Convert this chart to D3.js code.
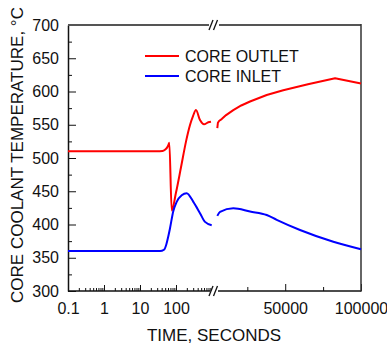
<!DOCTYPE html>
<html>
<head>
<meta charset="utf-8">
<script src="https://cdn.jsdelivr.net/npm/d3@7"></script>
<style>
  body { margin: 0; background: #fff; }
  text { font-family: "Liberation Sans", Arial, sans-serif; fill: #111; }
</style>
</head>
<body>
<svg id="chart" width="387" height="347"></svg>
<script>
// early transient, log time axis (seconds)
var outletEarly = [
  [0.1, 510], [30, 510], [42, 510.5], [49.5, 512.5], [57, 516], [62, 520], [65.2, 523],
  [76, 421], [100, 448], [137.7, 486], [190, 525], [245, 549.6], [297, 563], [359, 572],
  [464, 557], [600, 550.7], [789, 553.7], [938, 554.6]
];
var inletEarly = [
  [0.1, 360], [36, 360], [46.4, 362], [53.8, 370], [61, 382], [68, 394], [84, 420],
  [104.5, 434], [144, 444], [198, 447], [303, 434], [464, 417], [639, 404], [981, 399]
];
// long term, linear time axis (seconds)
var outletLate = [
  [5200, 545], [5600, 553], [6500, 556], [8100, 558.5], [11000, 564.5], [15750, 572],
  [21000, 579], [26800, 585], [37800, 594.7], [48700, 602], [65000, 611], [82900, 620],
  [100000, 612]
];
var inletLate = [
  [5200, 413], [7000, 419], [15750, 424.3], [26800, 419.5], [37800, 414.3], [44400, 407],
  [59760, 391.7], [81750, 374], [100000, 362.7]
];
var yTicks = [300, 350, 400, 450, 500, 550, 600, 650, 700];
var logMajor = [0.1, 1, 10, 100];
var linMajor = [50000, 100000];
var linMinor = [25000, 75000];
var legendItems = [["CORE OUTLET", "#ff0000"], ["CORE INLET", "#0000ff"]];

var svg = d3.select("#chart");
var pLeft = 68, pTop = 25, pBottom = 291, pRight = 361;

var y = d3.scaleLinear().domain([300, 700]).range([pBottom, pTop]);
var xLog = d3.scaleLog().domain([0.1, 1000]).range([pLeft, 212]);
var xLin = d3.scaleLinear().domain([5000, 100000]).range([217, pRight]);

// minor ticks for log axis
var logMinor = [];
logMajor.forEach(function(d) {
  for (var k = 2; k <= 9; k++) logMinor.push(d * k);
});
var yMinor = [];
for (var v = 325; v < 700; v += 50) yMinor.push(v);

// y axis
svg.append("g")
  .attr("transform", "translate(" + pLeft + ",0)")
  .call(d3.axisLeft(y).tickValues(yTicks).tickSize(-8).tickSizeOuter(0).tickPadding(9).tickFormat(d3.format("d")))
  .call(function(g) {
    g.select(".domain").attr("stroke", "#111").attr("stroke-width", 1.5);
    g.selectAll("line").attr("stroke", "#111");
    g.selectAll("text").attr("font-size", 16).attr("fill", "#111");
  });
svg.append("g")
  .attr("transform", "translate(" + pLeft + ",0)")
  .call(d3.axisLeft(y).tickValues(yMinor).tickSize(-4).tickFormat(""))
  .call(function(g) { g.select(".domain").remove(); g.selectAll("line").attr("stroke", "#111"); });

// x axis left part (log)
svg.append("g")
  .attr("transform", "translate(0," + pBottom + ")")
  .call(d3.axisBottom(xLog).tickValues(logMajor).tickSize(-6).tickSizeOuter(0).tickPadding(12)
    .tickFormat(function(d) { return d < 1 ? "0.1" : d3.format("d")(d); }))
  .call(function(g) {
    g.select(".domain").attr("stroke", "#111").attr("stroke-width", 1.5).attr("d", "M" + pLeft + ",0H210");
    g.selectAll("line").attr("stroke", "#111");
    g.selectAll("text").attr("font-size", 16).attr("fill", "#111");
  });
svg.append("g")
  .attr("transform", "translate(0," + pBottom + ")")
  .call(d3.axisBottom(xLog).tickValues(logMinor.filter(function(d) { return d < 1000; })).tickSize(-3).tickFormat(""))
  .call(function(g) { g.select(".domain").remove(); g.selectAll("line").attr("stroke", "#111"); });

// x axis right part (linear)
svg.append("g")
  .attr("transform", "translate(0," + pBottom + ")")
  .call(d3.axisBottom(xLin).tickValues(linMajor).tickSize(-7).tickSizeOuter(0).tickPadding(12).tickFormat(d3.format("d")))
  .call(function(g) {
    g.select(".domain").attr("stroke", "#111").attr("stroke-width", 1.5).attr("d", "M218,0H" + pRight);
    g.selectAll("line").attr("stroke", "#111");
    g.selectAll("text").attr("font-size", 16).attr("fill", "#111");
  });
svg.append("g")
  .attr("transform", "translate(0," + pBottom + ")")
  .call(d3.axisBottom(xLin).tickValues(linMinor).tickSize(-4).tickFormat(""))
  .call(function(g) { g.select(".domain").remove(); g.selectAll("line").attr("stroke", "#111"); });

// remove d3's default font so the css font applies
svg.selectAll("g").attr("font-family", null);

// top border with break, right border
svg.append("path").attr("d", "M" + pLeft + "," + pTop + "H209M219," + pTop + "H" + pRight)
  .attr("stroke", "#555").attr("stroke-width", 2).attr("fill", "none");
svg.append("line").attr("x1", pRight).attr("x2", pRight).attr("y1", pTop - 1).attr("y2", pBottom + 0.75)
  .attr("stroke", "#333").attr("stroke-width", 1.5);

// break marks
function breakMark(cx, cy) {
  [-2.5, 2].forEach(function(dx) {
    svg.append("line")
      .attr("x1", cx + dx - 2).attr("y1", cy + 5)
      .attr("x2", cx + dx + 2).attr("y2", cy - 5)
      .attr("stroke", "#111").attr("stroke-width", 1.3);
  });
}
breakMark(213.5, pBottom);
breakMark(213.5, pTop);

// data lines
var lineLog = d3.line().x(function(d) { return xLog(d[0]); }).y(function(d) { return y(d[1]); }).curve(d3.curveMonotoneX);
var lineLin = d3.line().x(function(d) { return xLin(d[0]); }).y(function(d) { return y(d[1]); });
var lineLinSmooth = d3.line().x(function(d) { return xLin(d[0]); }).y(function(d) { return y(d[1]); }).curve(d3.curveMonotoneX);

[[outletEarly, lineLog, "#ff0000"], [inletEarly, lineLog, "#0000ff"],
 [outletLate, lineLin, "#ff0000"], [inletLate, lineLinSmooth, "#0000ff"]].forEach(function(s) {
  svg.append("path").datum(s[0]).attr("d", s[1])
    .attr("fill", "none").attr("stroke", s[2]).attr("stroke-width", 2)
    .attr("stroke-linejoin", "round");
});

// legend
var legend = svg.append("g").attr("transform", "translate(145,56)");
legendItems.forEach(function(item, i) {
  legend.append("line").attr("x1", 0).attr("x2", 34).attr("y1", i * 20).attr("y2", i * 20)
    .attr("stroke", item[1]).attr("stroke-width", 2);
  legend.append("text").attr("x", 40).attr("y", i * 20 + 5.5).attr("font-size", 16).text(item[0]);
});

// axis titles
svg.append("text").attr("x", 214).attr("y", 341).attr("text-anchor", "middle")
  .attr("font-size", 17).text("TIME, SECONDS");
svg.append("text").attr("transform", "translate(23,155) rotate(-90)").attr("text-anchor", "middle")
  .attr("font-size", 17).text("CORE COOLANT TEMPERATURE, °C");
</script>
</body>
</html>
